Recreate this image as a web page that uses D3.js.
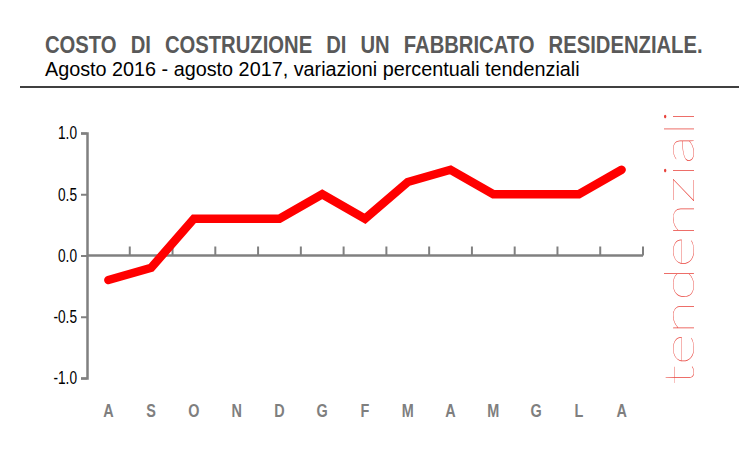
<!DOCTYPE html>
<html>
<head>
<meta charset="utf-8">
<script src="https://cdn.jsdelivr.net/npm/d3@7"></script>
<style>
  body { margin: 0; background: #fff; }
  svg { display: block; }
</style>
</head>
<body>
<script>
var w = 739;
var h = 453;

var months = ["A", "S", "O", "N", "D", "G", "F", "M", "A", "M", "G", "L", "A"];
var values = [-0.2, -0.1, 0.3, 0.3, 0.3, 0.5, 0.3, 0.6, 0.7, 0.5, 0.5, 0.5, 0.7];
var yTicks = [1.0, 0.5, 0.0, -0.5, -1.0];

var font = "'Liberation Sans Narrow', 'Arial Narrow', 'Liberation Sans', Arial, sans-serif";
var squeeze = 0.76; // fake a narrow face

var svg = d3.select("body").append("svg")
    .attr("width", w)
    .attr("height", h);

// band per month, point in the middle
var xScale = d3.scaleBand()
    .domain(d3.range(months.length))
    .range([87, 643]);

var yScale = d3.scaleLinear()
    .domain([-1, 1])
    .range([378, 133]);

// squeeze a text horizontally so it spans the wanted width
function fitWidth(sel, x, y, width) {
    var len = sel.node().getComputedTextLength();
    sel.attr("transform", "translate(" + x + "," + y + ") scale(" + (width / len) + ",1)");
}

// Titles
var title = svg.append("text")
    .attr("font-family", font)
    .attr("font-weight", "bold")
    .attr("font-size", 24)
    .attr("fill", "#595959")
    .attr("word-spacing", 10)
    .text("COSTO DI COSTRUZIONE DI UN FABBRICATO RESIDENZIALE.");
fitWidth(title, 45, 53, 658);

var subtitle = svg.append("text")
    .attr("font-family", font)
    .attr("font-size", 20.5)
    .attr("fill", "#000")
    .text("Agosto 2016 - agosto 2017, variazioni percentuali tendenziali");
fitWidth(subtitle, 45, 76, 535);

svg.append("line")
    .attr("x1", 20).attr("x2", w)
    .attr("y1", 87).attr("y2", 87)
    .attr("stroke", "#000")
    .attr("stroke-width", 1.5);

// Y axis
var yAxis = d3.axisLeft(yScale)
    .tickValues(yTicks)
    .tickSize(6)
    .tickFormat(function(d) { return d3.format(".1f")(d).replace("−", "-"); });

var gy = svg.append("g")
    .attr("transform", "translate(87,0)")
    .call(yAxis);
gy.select(".domain").attr("stroke", "#808080").attr("stroke-width", 2.5);
gy.selectAll(".tick line").attr("stroke", "#808080").attr("stroke-width", 2);
gy.selectAll(".tick text")
    .attr("font-family", font)
    .attr("font-size", 18)
    .attr("fill", "#000")
    .attr("x", -10 / squeeze)
    .attr("transform", "scale(" + squeeze + ",1)");

// zero line with ticks at band boundaries
var zx = svg.append("g")
    .attr("transform", "translate(0," + yScale(0) + ")");
zx.append("line")
    .attr("x1", 87).attr("x2", 643)
    .attr("y1", 0).attr("y2", 0)
    .attr("stroke", "#808080")
    .attr("stroke-width", 2.5);
zx.selectAll("line.tk")
    .data(d3.range(1, months.length + 1))
    .enter()
    .append("line")
    .attr("class", "tk")
    .attr("x1", function(d) { return xScale.step() * d + 87; })
    .attr("x2", function(d) { return xScale.step() * d + 87; })
    .attr("y1", 0).attr("y2", -9)
    .attr("stroke", "#808080")
    .attr("stroke-width", 2);

// month labels
svg.selectAll("text.month")
    .data(months)
    .enter()
    .append("text")
    .attr("class", "month")
    .attr("transform", function(d, i) {
        return "translate(" + (xScale(i) + xScale.bandwidth() / 2) + ",417) scale(" + squeeze + ",1)";
    })
    .attr("text-anchor", "middle")
    .attr("font-family", font)
    .attr("font-weight", "bold")
    .attr("font-size", 19)
    .attr("fill", "#7f7f7f")
    .text(function(d) { return d; });

// Series line
var line = d3.line()
    .x(function(d, i) { return xScale(i) + xScale.bandwidth() / 2; })
    .y(function(d) { return yScale(d); });

svg.append("path")
    .datum(values)
    .attr("d", line)
    .attr("fill", "none")
    .attr("stroke", "#ff0000")
    .attr("stroke-width", 8.5)
    .attr("stroke-linecap", "round")
    .attr("stroke-linejoin", "miter");

// vertical side label
svg.append("text")
    .attr("transform", "translate(694,385) rotate(-90)")
    .attr("font-family", "Lato, 'Open Sans', sans-serif")
    .attr("font-weight", 100)
    .attr("font-size", 41)
    .attr("fill", "#e8433c")
    .attr("textLength", 275)
    .attr("lengthAdjust", "spacingAndGlyphs")
    .text("tendenziali");
</script>
</body>
</html>
